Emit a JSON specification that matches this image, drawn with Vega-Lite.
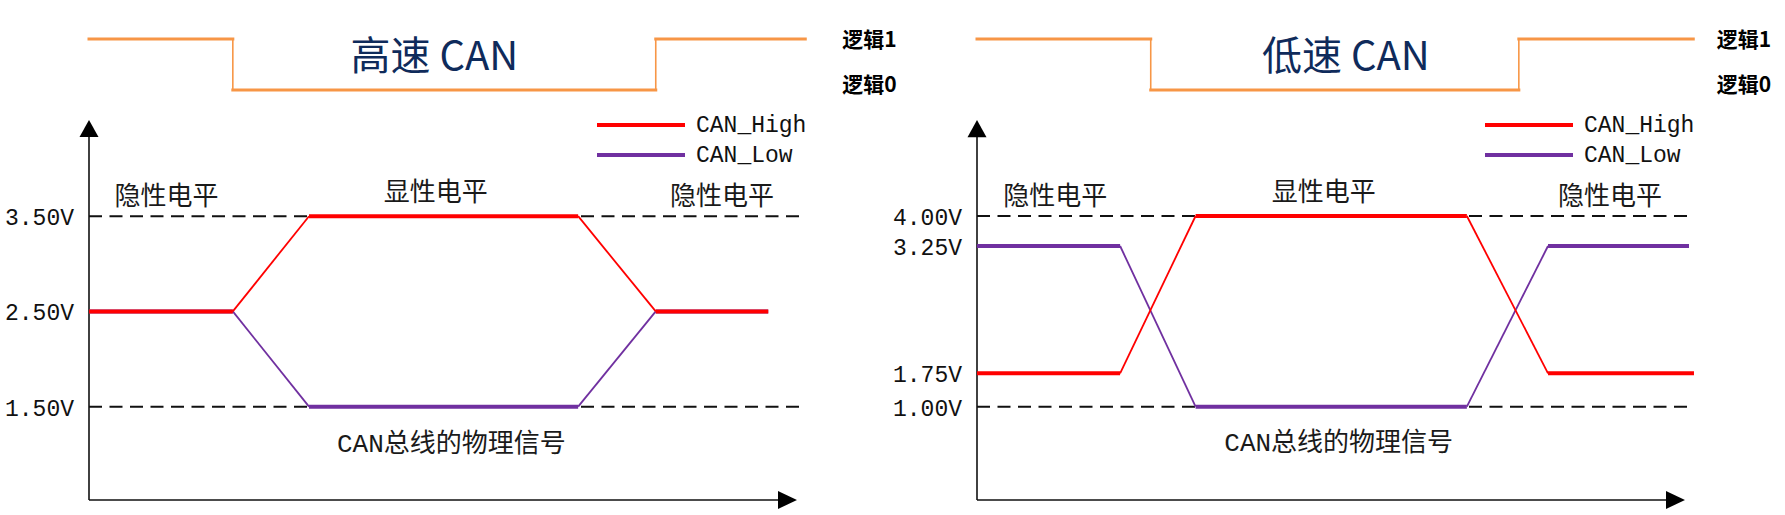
{
  "$schema": "https://vega.github.io/schema/vega-lite/v6.json",
  "padding": 0,
  "spacing": 0,
  "bounds": "flush",
  "background": "white",
  "config": {"view": {"stroke": null}},
  "resolve": {"scale": {"color": "independent", "strokeWidth": "independent"}, "legend": {"color": "independent"}},
  "datasets": {
    "left_signals": [
      {"signal": "CAN_Low", "kind": "steady", "t0": 0, "v0": 2.5, "t1": 20.2, "v1": 2.5},
      {"signal": "CAN_Low", "kind": "transition", "t0": 20.2, "v0": 2.5, "t1": 30.9, "v1": 1.5},
      {"signal": "CAN_Low", "kind": "steady", "t0": 30.9, "v0": 1.5, "t1": 68.7, "v1": 1.5},
      {"signal": "CAN_Low", "kind": "transition", "t0": 68.7, "v0": 1.5, "t1": 79.6, "v1": 2.5},
      {"signal": "CAN_Low", "kind": "steady", "t0": 79.6, "v0": 2.5, "t1": 95.4, "v1": 2.5},
      {"signal": "CAN_High", "kind": "steady", "t0": 0, "v0": 2.5, "t1": 20.2, "v1": 2.5},
      {"signal": "CAN_High", "kind": "transition", "t0": 20.2, "v0": 2.5, "t1": 30.9, "v1": 3.5},
      {"signal": "CAN_High", "kind": "steady", "t0": 30.9, "v0": 3.5, "t1": 68.7, "v1": 3.5},
      {"signal": "CAN_High", "kind": "transition", "t0": 68.7, "v0": 3.5, "t1": 79.6, "v1": 2.5},
      {"signal": "CAN_High", "kind": "steady", "t0": 79.6, "v0": 2.5, "t1": 95.4, "v1": 2.5}
    ],
    "right_signals": [
      {"signal": "CAN_Low", "kind": "steady", "t0": 0, "v0": 3.25, "t1": 20.1, "v1": 3.25},
      {"signal": "CAN_Low", "kind": "transition", "t0": 20.1, "v0": 3.25, "t1": 30.7, "v1": 1},
      {"signal": "CAN_Low", "kind": "steady", "t0": 30.7, "v0": 1, "t1": 68.8, "v1": 1},
      {"signal": "CAN_Low", "kind": "transition", "t0": 68.8, "v0": 1, "t1": 80.2, "v1": 3.25},
      {"signal": "CAN_Low", "kind": "steady", "t0": 80.2, "v0": 3.25, "t1": 100, "v1": 3.25},
      {"signal": "CAN_High", "kind": "steady", "t0": 0, "v0": 1.75, "t1": 20.1, "v1": 1.75},
      {"signal": "CAN_High", "kind": "transition", "t0": 20.1, "v0": 1.75, "t1": 30.7, "v1": 4},
      {"signal": "CAN_High", "kind": "steady", "t0": 30.7, "v0": 4, "t1": 68.8, "v1": 4},
      {"signal": "CAN_High", "kind": "transition", "t0": 68.8, "v0": 4, "t1": 80.2, "v1": 1.75},
      {"signal": "CAN_High", "kind": "steady", "t0": 80.2, "v0": 1.75, "t1": 100.7, "v1": 1.75}
    ],
    "left_levels": [{"t0": 0, "t1": 100, "v": 3.5}, {"t0": 0, "t1": 100, "v": 1.5}],
    "right_levels": [{"t0": 0, "t1": 100, "v": 4}, {"t0": 0, "t1": 100, "v": 1}],
    "left_ticks": [{"v": 3.5, "label": "3.50V"}, {"v": 2.5, "label": "2.50V"}, {"v": 1.5, "label": "1.50V"}],
    "right_ticks": [{"v": 4, "label": "4.00V"}, {"v": 3.25, "label": "3.25V"}, {"v": 1.75, "label": "1.75V"}, {"v": 1, "label": "1.00V"}],
    "left_axes": [
      {"t0": 0, "v0": 0.52, "t1": 98.1, "v1": 0.52},
      {"t0": 0, "v0": 0.52, "t1": 0, "v1": 4.42}
    ],
    "right_axes": [
      {"t0": 0, "v0": 0, "t1": 98.1, "v1": 0},
      {"t0": 0, "v0": 0, "t1": 0, "v1": 4.91}
    ],
    "left_arrow_up": [{"t": 0, "v": 4.42}],
    "left_arrow_right": [{"t": 98.1, "v": 0.52}],
    "right_arrow_up": [{"t": 0, "v": 4.91}],
    "right_arrow_right": [{"t": 98.1, "v": 0}],
    "left_states": [
      {"label": "隐性电平", "t": 10.9, "v": 3.70},
      {"label": "显性电平", "t": 48.7, "v": 3.74},
      {"label": "隐性电平", "t": 88.9, "v": 3.70},
      {"label": "CAN总线的物理信号", "t": 50.9, "v": 1.113}
    ],
    "right_states": [
      {"label": "隐性电平", "t": 11.0, "v": 4.198},
      {"label": "显性电平", "t": 48.7, "v": 4.24},
      {"label": "隐性电平", "t": 88.9, "v": 4.198},
      {"label": "CAN总线的物理信号", "t": 50.8, "v": 0.606}
    ],
    "left_logic": [
      {"kind": "steady", "t0": 0, "l0": 1, "t1": 20.2, "l1": 1},
      {"kind": "transition", "t0": 20.2, "l0": 1, "t1": 20.2, "l1": 0},
      {"kind": "steady", "t0": 20.2, "l0": 0, "t1": 79.6, "l1": 0},
      {"kind": "transition", "t0": 79.6, "l0": 0, "t1": 79.6, "l1": 1},
      {"kind": "steady", "t0": 79.6, "l0": 1, "t1": 100.6, "l1": 1}
    ],
    "right_logic": [
      {"kind": "steady", "t0": 0, "l0": 1, "t1": 24.4, "l1": 1},
      {"kind": "transition", "t0": 24.4, "l0": 1, "t1": 24.4, "l1": 0},
      {"kind": "steady", "t0": 24.4, "l0": 0, "t1": 76.1, "l1": 0},
      {"kind": "transition", "t0": 76.1, "l0": 0, "t1": 76.1, "l1": 1},
      {"kind": "steady", "t0": 76.1, "l0": 1, "t1": 100.6, "l1": 1}
    ],
    "left_logic_labels": [{"label": "逻辑1", "t": 105.8, "l": 0.96}, {"label": "逻辑0", "t": 105.8, "l": 0.08}],
    "right_logic_labels": [{"label": "逻辑1", "t": 103.9, "l": 0.96}, {"label": "逻辑0", "t": 103.9, "l": 0.08}],
    "left_title": [{"label": "高速 CAN", "t": 48.5, "l": 0.637}],
    "right_title": [{"label": "低速 CAN", "t": 51.8, "l": 0.637}]
  },
  "hconcat": [
    {
      "width": 888,
      "height": 515,
      "layer": [
        {
          "layer": [
            {
              "data": {"name": "left_levels"},
              "mark": {"type": "rule", "strokeDash": [13, 7.5], "strokeWidth": 2, "color": "#111111"},
              "encoding": {
                "x": {"field": "t0", "type": "quantitative", "scale": {"domain": [0, 100], "range": [89, 801], "nice": false, "zero": false}, "axis": null},
                "x2": {"field": "t1"},
                "y": {"field": "v", "type": "quantitative", "scale": {"domain": [0.52, 4.51], "range": [500, 120], "nice": false, "zero": false}, "axis": null}
              }
            },
            {
              "data": {"name": "left_axes"},
              "mark": {"type": "rule", "strokeWidth": 1.6, "color": "#111111"},
              "encoding": {
                "x": {"field": "t0", "type": "quantitative", "scale": {"domain": [0, 100], "range": [89, 801], "nice": false, "zero": false}, "axis": null},
                "x2": {"field": "t1"},
                "y": {"field": "v0", "type": "quantitative", "scale": {"domain": [0.52, 4.51], "range": [500, 120], "nice": false, "zero": false}, "axis": null},
                "y2": {"field": "v1"}
              }
            },
            {
              "data": {"name": "left_arrow_up"},
              "mark": {"type": "point", "shape": "M0,-0.9L1,0.9L-1,0.9Z", "size": 361, "filled": true, "color": "#000000", "opacity": 1},
              "encoding": {
                "x": {"field": "t", "type": "quantitative", "scale": {"domain": [0, 100], "range": [89, 801], "nice": false, "zero": false}, "axis": null},
                "y": {"field": "v", "type": "quantitative", "scale": {"domain": [0.52, 4.51], "range": [500, 120], "nice": false, "zero": false}, "axis": null}
              }
            },
            {
              "data": {"name": "left_arrow_right"},
              "mark": {"type": "point", "shape": "M1,0L-1,-0.95L-1,0.95Z", "size": 361, "filled": true, "color": "#000000", "opacity": 1},
              "encoding": {
                "x": {"field": "t", "type": "quantitative", "scale": {"domain": [0, 100], "range": [89, 801], "nice": false, "zero": false}, "axis": null},
                "y": {"field": "v", "type": "quantitative", "scale": {"domain": [0.52, 4.51], "range": [500, 120], "nice": false, "zero": false}, "axis": null}
              }
            },
            {
              "data": {"name": "left_signals"},
              "mark": {"type": "rule", "strokeCap": "butt"},
              "encoding": {
                "x": {"field": "t0", "type": "quantitative", "scale": {"domain": [0, 100], "range": [89, 801], "nice": false, "zero": false}, "axis": null},
                "x2": {"field": "t1"},
                "y": {"field": "v0", "type": "quantitative", "scale": {"domain": [0.52, 4.51], "range": [500, 120], "nice": false, "zero": false}, "axis": null},
                "y2": {"field": "v1"},
                "color": {"field": "signal", "type": "nominal", "scale": {"domain": ["CAN_High", "CAN_Low"], "range": ["#FF0000", "#7030A0"]},
                  "legend": {"orient": "none", "legendX": 628, "legendY": 112, "title": null, "symbolType": "M-4,0H4", "symbolSize": 484, "symbolStrokeWidth": 4, "labelFont": "Liberation Mono", "labelFontSize": 23, "labelColor": "#111111", "labelOffset": 42, "rowPadding": 5, "padding": 0, "direction": "vertical"}},
                "strokeWidth": {"field": "kind", "type": "nominal", "scale": {"domain": ["steady", "transition"], "range": [4, 1.8]}, "legend": null}
              }
            },
            {
              "data": {"name": "left_states"},
              "mark": {"type": "text", "font": "Liberation Mono, Noto Sans CJK SC", "fontSize": 26, "color": "#1a1a1a", "align": "center", "baseline": "middle"},
              "encoding": {
                "x": {"field": "t", "type": "quantitative", "scale": {"domain": [0, 100], "range": [89, 801], "nice": false, "zero": false}, "axis": null},
                "y": {"field": "v", "type": "quantitative", "scale": {"domain": [0.52, 4.51], "range": [500, 120], "nice": false, "zero": false}, "axis": null},
                "text": {"field": "label"}
              }
            },
            {
              "data": {"name": "left_ticks"},
              "mark": {"type": "text", "font": "Liberation Mono", "fontSize": 23, "color": "#111111", "align": "right", "baseline": "middle", "dx": -15, "dy": 2},
              "encoding": {
                "x": {"datum": 0, "type": "quantitative", "scale": {"domain": [0, 100], "range": [89, 801], "nice": false, "zero": false}, "axis": null},
                "y": {"field": "v", "type": "quantitative", "scale": {"domain": [0.52, 4.51], "range": [500, 120], "nice": false, "zero": false}, "axis": null},
                "text": {"field": "label"}
              }
            }
          ]
        },
        {
          "layer": [
            {
              "data": {"name": "left_logic"},
              "mark": {"type": "rule", "color": "#F79646", "strokeCap": "square"},
              "encoding": {
                "x": {"field": "t0", "type": "quantitative", "scale": {"domain": [0, 100], "range": [89, 801], "nice": false, "zero": false}, "axis": null},
                "x2": {"field": "t1"},
                "y": {"field": "l0", "type": "quantitative", "scale": {"domain": [0, 1], "range": [90, 39], "nice": false, "zero": false}, "axis": null},
                "y2": {"field": "l1"},
                "strokeWidth": {"field": "kind", "type": "nominal", "scale": {"domain": ["steady", "transition"], "range": [3, 1.6]}, "legend": null}
              }
            },
            {
              "data": {"name": "left_title"},
              "mark": {"type": "text", "font": "Noto Sans CJK SC", "fontSize": 40, "color": "#0F2B5B", "align": "center", "baseline": "middle"},
              "encoding": {
                "x": {"field": "t", "type": "quantitative", "scale": {"domain": [0, 100], "range": [89, 801], "nice": false, "zero": false}, "axis": null},
                "y": {"field": "l", "type": "quantitative", "scale": {"domain": [0, 1], "range": [90, 39], "nice": false, "zero": false}, "axis": null},
                "text": {"field": "label"}
              }
            },
            {
              "data": {"name": "left_logic_labels"},
              "mark": {"type": "text", "font": "Noto Sans CJK SC", "fontWeight": "bold", "fontSize": 21, "color": "#000000", "align": "left", "baseline": "middle"},
              "encoding": {
                "x": {"field": "t", "type": "quantitative", "scale": {"domain": [0, 100], "range": [89, 801], "nice": false, "zero": false}, "axis": null},
                "y": {"field": "l", "type": "quantitative", "scale": {"domain": [0, 1], "range": [90, 39], "nice": false, "zero": false}, "axis": null},
                "text": {"field": "label"}
              }
            }
          ]
        }
      ],
      "resolve": {"scale": {"y": "independent", "strokeWidth": "independent"}}
    },
    {
      "width": 897,
      "height": 515,
      "layer": [
        {
          "layer": [
            {
              "data": {"name": "right_levels"},
              "mark": {"type": "rule", "strokeDash": [13, 7.5], "strokeWidth": 2, "color": "#111111"},
              "encoding": {
                "x": {"field": "t0", "type": "quantitative", "scale": {"domain": [0, 100], "range": [89, 801], "nice": false, "zero": false}, "axis": null},
                "x2": {"field": "t1"},
                "y": {"field": "v", "type": "quantitative", "scale": {"domain": [0, 1, 1.75, 3.25, 4, 5], "range": [500, 406.7, 373.3, 246, 216, 120], "nice": false, "zero": false}, "axis": null}
              }
            },
            {
              "data": {"name": "right_axes"},
              "mark": {"type": "rule", "strokeWidth": 1.6, "color": "#111111"},
              "encoding": {
                "x": {"field": "t0", "type": "quantitative", "scale": {"domain": [0, 100], "range": [89, 801], "nice": false, "zero": false}, "axis": null},
                "x2": {"field": "t1"},
                "y": {"field": "v0", "type": "quantitative", "scale": {"domain": [0, 1, 1.75, 3.25, 4, 5], "range": [500, 406.7, 373.3, 246, 216, 120], "nice": false, "zero": false}, "axis": null},
                "y2": {"field": "v1"}
              }
            },
            {
              "data": {"name": "right_arrow_up"},
              "mark": {"type": "point", "shape": "M0,-0.9L1,0.9L-1,0.9Z", "size": 361, "filled": true, "color": "#000000", "opacity": 1},
              "encoding": {
                "x": {"field": "t", "type": "quantitative", "scale": {"domain": [0, 100], "range": [89, 801], "nice": false, "zero": false}, "axis": null},
                "y": {"field": "v", "type": "quantitative", "scale": {"domain": [0, 1, 1.75, 3.25, 4, 5], "range": [500, 406.7, 373.3, 246, 216, 120], "nice": false, "zero": false}, "axis": null}
              }
            },
            {
              "data": {"name": "right_arrow_right"},
              "mark": {"type": "point", "shape": "M1,0L-1,-0.95L-1,0.95Z", "size": 361, "filled": true, "color": "#000000", "opacity": 1},
              "encoding": {
                "x": {"field": "t", "type": "quantitative", "scale": {"domain": [0, 100], "range": [89, 801], "nice": false, "zero": false}, "axis": null},
                "y": {"field": "v", "type": "quantitative", "scale": {"domain": [0, 1, 1.75, 3.25, 4, 5], "range": [500, 406.7, 373.3, 246, 216, 120], "nice": false, "zero": false}, "axis": null}
              }
            },
            {
              "data": {"name": "right_signals"},
              "mark": {"type": "rule", "strokeCap": "butt"},
              "encoding": {
                "x": {"field": "t0", "type": "quantitative", "scale": {"domain": [0, 100], "range": [89, 801], "nice": false, "zero": false}, "axis": null},
                "x2": {"field": "t1"},
                "y": {"field": "v0", "type": "quantitative", "scale": {"domain": [0, 1, 1.75, 3.25, 4, 5], "range": [500, 406.7, 373.3, 246, 216, 120], "nice": false, "zero": false}, "axis": null},
                "y2": {"field": "v1"},
                "color": {"field": "signal", "type": "nominal", "scale": {"domain": ["CAN_High", "CAN_Low"], "range": ["#FF0000", "#7030A0"]},
                  "legend": {"orient": "none", "legendX": 628, "legendY": 112, "title": null, "symbolType": "M-4,0H4", "symbolSize": 484, "symbolStrokeWidth": 4, "labelFont": "Liberation Mono", "labelFontSize": 23, "labelColor": "#111111", "labelOffset": 42, "rowPadding": 5, "padding": 0, "direction": "vertical"}},
                "strokeWidth": {"field": "kind", "type": "nominal", "scale": {"domain": ["steady", "transition"], "range": [4, 1.8]}, "legend": null}
              }
            },
            {
              "data": {"name": "right_states"},
              "mark": {"type": "text", "font": "Liberation Mono, Noto Sans CJK SC", "fontSize": 26, "color": "#1a1a1a", "align": "center", "baseline": "middle"},
              "encoding": {
                "x": {"field": "t", "type": "quantitative", "scale": {"domain": [0, 100], "range": [89, 801], "nice": false, "zero": false}, "axis": null},
                "y": {"field": "v", "type": "quantitative", "scale": {"domain": [0, 1, 1.75, 3.25, 4, 5], "range": [500, 406.7, 373.3, 246, 216, 120], "nice": false, "zero": false}, "axis": null},
                "text": {"field": "label"}
              }
            },
            {
              "data": {"name": "right_ticks"},
              "mark": {"type": "text", "font": "Liberation Mono", "fontSize": 23, "color": "#111111", "align": "right", "baseline": "middle", "dx": -15, "dy": 2},
              "encoding": {
                "x": {"datum": 0, "type": "quantitative", "scale": {"domain": [0, 100], "range": [89, 801], "nice": false, "zero": false}, "axis": null},
                "y": {"field": "v", "type": "quantitative", "scale": {"domain": [0, 1, 1.75, 3.25, 4, 5], "range": [500, 406.7, 373.3, 246, 216, 120], "nice": false, "zero": false}, "axis": null},
                "text": {"field": "label"}
              }
            }
          ]
        },
        {
          "layer": [
            {
              "data": {"name": "right_logic"},
              "mark": {"type": "rule", "color": "#F79646", "strokeCap": "square"},
              "encoding": {
                "x": {"field": "t0", "type": "quantitative", "scale": {"domain": [0, 100], "range": [89, 801], "nice": false, "zero": false}, "axis": null},
                "x2": {"field": "t1"},
                "y": {"field": "l0", "type": "quantitative", "scale": {"domain": [0, 1], "range": [90, 39], "nice": false, "zero": false}, "axis": null},
                "y2": {"field": "l1"},
                "strokeWidth": {"field": "kind", "type": "nominal", "scale": {"domain": ["steady", "transition"], "range": [3, 1.6]}, "legend": null}
              }
            },
            {
              "data": {"name": "right_title"},
              "mark": {"type": "text", "font": "Noto Sans CJK SC", "fontSize": 40, "color": "#0F2B5B", "align": "center", "baseline": "middle"},
              "encoding": {
                "x": {"field": "t", "type": "quantitative", "scale": {"domain": [0, 100], "range": [89, 801], "nice": false, "zero": false}, "axis": null},
                "y": {"field": "l", "type": "quantitative", "scale": {"domain": [0, 1], "range": [90, 39], "nice": false, "zero": false}, "axis": null},
                "text": {"field": "label"}
              }
            },
            {
              "data": {"name": "right_logic_labels"},
              "mark": {"type": "text", "font": "Noto Sans CJK SC", "fontWeight": "bold", "fontSize": 21, "color": "#000000", "align": "left", "baseline": "middle"},
              "encoding": {
                "x": {"field": "t", "type": "quantitative", "scale": {"domain": [0, 100], "range": [89, 801], "nice": false, "zero": false}, "axis": null},
                "y": {"field": "l", "type": "quantitative", "scale": {"domain": [0, 1], "range": [90, 39], "nice": false, "zero": false}, "axis": null},
                "text": {"field": "label"}
              }
            }
          ]
        }
      ],
      "resolve": {"scale": {"y": "independent", "strokeWidth": "independent"}}
    }
  ]
}
